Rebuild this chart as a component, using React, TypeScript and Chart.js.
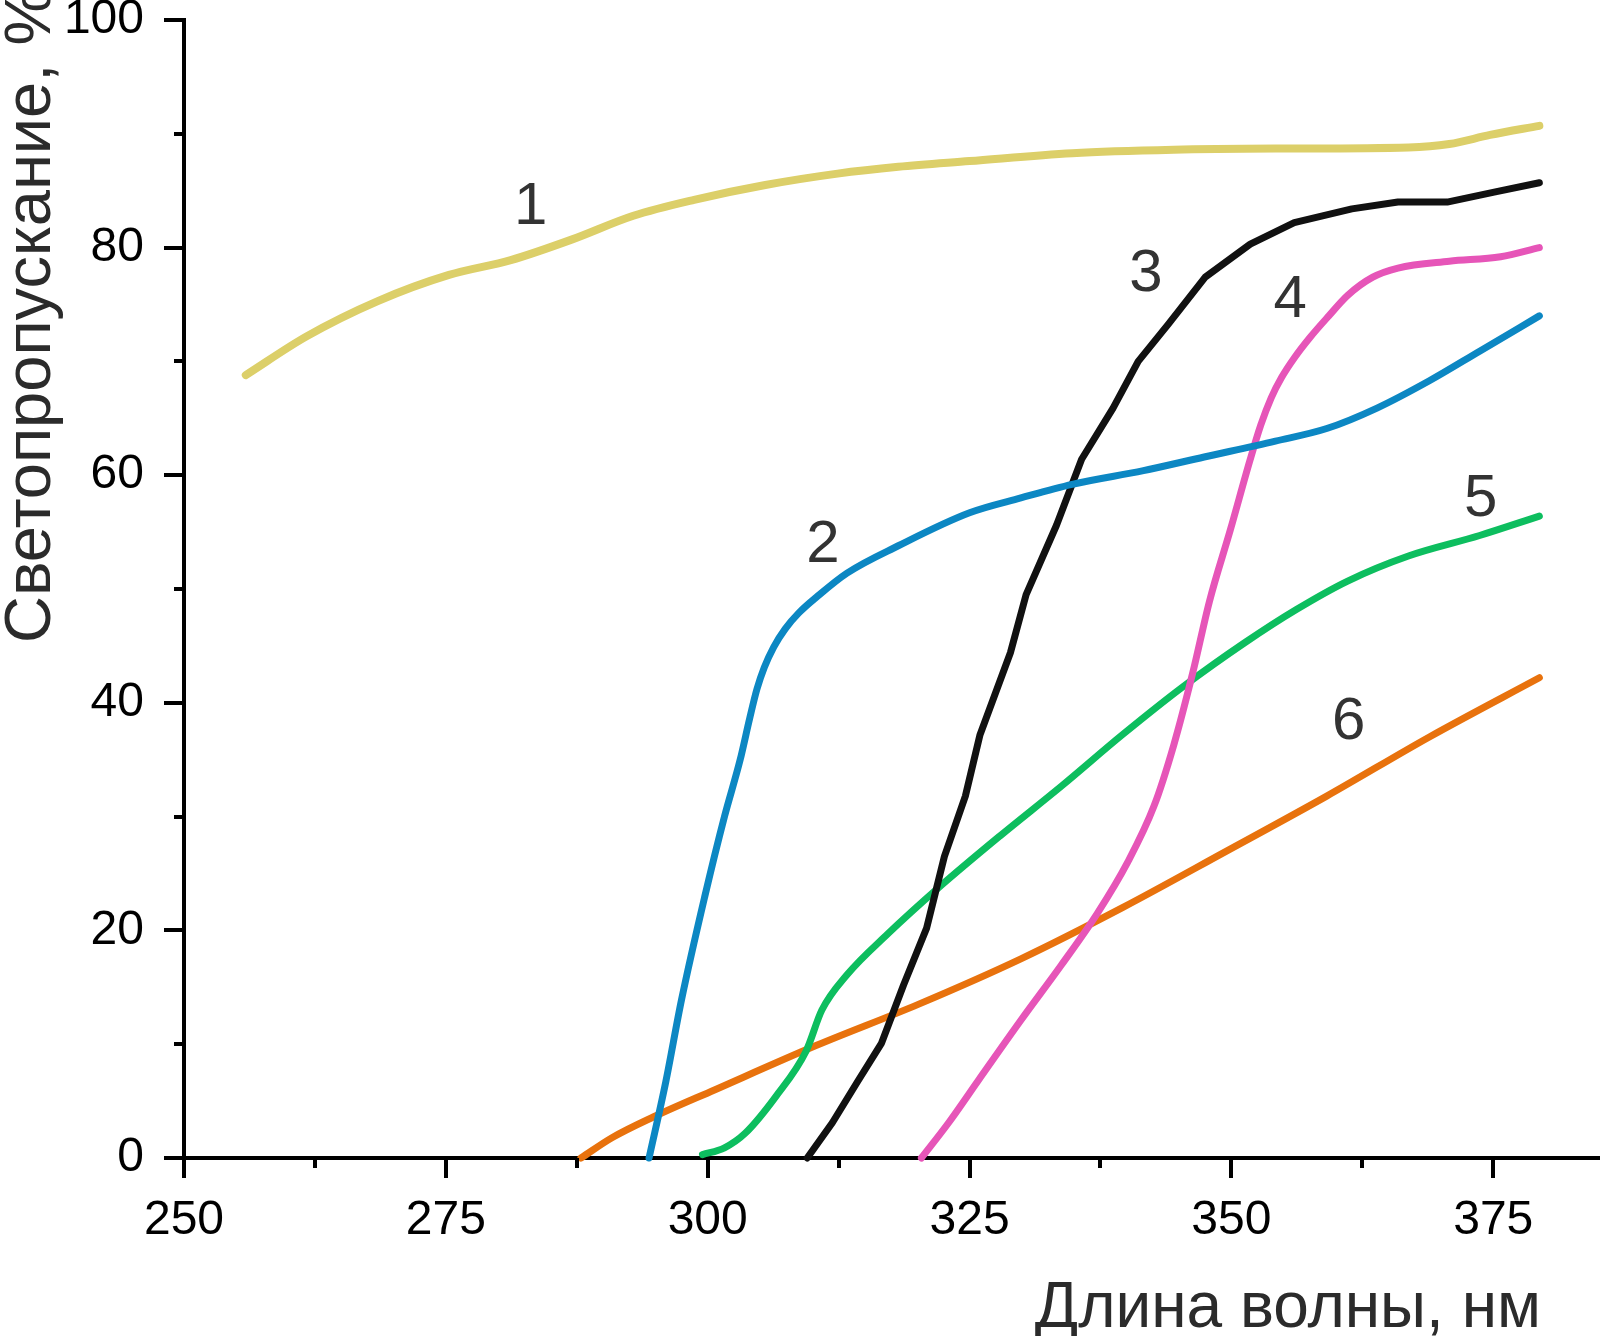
import React, { useEffect, useRef } from "react";
import { Chart, registerables } from "chart.js";

Chart.register(...registerables);

// ---- data (wavelength, nm / transmittance, %) ----
const curve1X = [255.9, 261.7, 268.5, 275.3, 281.2, 287.0, 292.9, 298.7, 305.5, 312.4, 318.2, 325.0, 334.8, 344.5, 354.2, 366.9, 370.8, 374.7, 379.4];
const curve1Y = [68.8, 72.2, 75.3, 77.6, 78.9, 80.7, 82.8, 84.2, 85.5, 86.5, 87.1, 87.6, 88.3, 88.6, 88.7, 88.8, 89.1, 89.9, 90.7];

const curve2X = [294.4, 296.0, 297.5, 299.7, 301.6, 303.1, 304.0, 304.7, 305.4, 306.3, 307.4, 308.7, 310.4, 313.3, 318.2, 325.0, 329.9, 334.8, 341.6, 347.4, 354.2, 359.1, 363.9, 368.9, 373.7, 379.4];
const curve2Y = [0, 6.7, 13.9, 22.9, 30.0, 35.0, 38.6, 41.2, 43.1, 44.9, 46.5, 47.9, 49.3, 51.4, 53.8, 56.7, 58.0, 59.2, 60.4, 61.6, 63.0, 64.1, 65.9, 68.3, 70.9, 74.0];

const curve3X = [309.5, 311.9, 314.3, 316.6, 318.7, 320.9, 322.6, 324.6, 326.0, 328.9, 330.4, 333.3, 335.7, 338.7, 341.1, 344.0, 347.5, 351.8, 356.0, 361.5, 365.9, 370.6, 375.2, 379.4];
const curve3Y = [0, 3.1, 6.7, 10.1, 15.2, 20.2, 26.5, 31.8, 37.2, 44.4, 49.5, 55.6, 61.4, 65.9, 70.0, 73.3, 77.4, 80.3, 82.2, 83.4, 84.0, 84.0, 84.9, 85.7];

const curve4X = [320.4, 323.0, 325.9, 329.9, 333.8, 337.2, 340.1, 342.6, 344.5, 346.3, 347.9, 349.9, 351.8, 352.8, 353.8, 354.8, 356.0, 357.5, 359.3, 361.1, 363.5, 365.9, 370.8, 375.7, 379.4];
const curve4Y = [0, 3.1, 6.9, 12.1, 17.0, 21.5, 26.0, 30.9, 36.3, 42.6, 48.9, 55.2, 61.4, 64.4, 66.8, 68.6, 70.3, 72.1, 74.0, 75.8, 77.4, 78.2, 78.8, 79.2, 80.0];

const curve5X = [299.5, 301.6, 303.6, 306.5, 309.4, 310.9, 313.3, 317.2, 322.1, 327.9, 333.8, 339.6, 345.5, 351.3, 356.2, 361.1, 366.9, 373.7, 379.4];
const curve5Y = [0.3, 0.9, 2.2, 5.4, 9.4, 13.0, 16.1, 19.7, 23.8, 28.3, 32.7, 37.2, 41.5, 45.3, 48.2, 50.7, 52.9, 54.7, 56.4];

const curve6X = [287.9, 290.9, 294.8, 300.7, 310.4, 320.1, 329.9, 339.6, 349.4, 359.1, 368.9, 379.4];
const curve6Y = [0, 1.8, 3.6, 6.0, 9.9, 13.5, 17.5, 22.0, 26.9, 31.8, 37.0, 42.2];

const curveNames = ["1", "2", "3", "4", "5", "6"];
const labelX = [283.1, 311.0, 341.85, 355.6, 373.8, 361.2];
const labelY = [83.8, 54.05, 77.9, 75.6, 58.1, 38.5];

const xMajorTicks = [250, 275, 300, 325, 350, 375];
const xMinorTicks = [262.5, 287.5, 312.5, 337.5, 362.5];
const yMajorTicks = [0, 20, 40, 60, 80, 100];
const yMinorTicks = [10, 30, 50, 70, 90];

const xTitle = "Длина волны, нм";
const yTitle = "Светопропускание, %";

const colors = ["#dccf69", "#0c87c3", "#111111", "#e655b8", "#0dbe5f", "#e8720d"];

const FONT = "'Liberation Sans', Arial, Helvetica, sans-serif";

function pts(xs: number[], ys: number[]) {
  return xs.map((x, i) => ({ x, y: ys[i] }));
}

const decorPlugin = {
  id: "decor",
  afterDraw(chart: any) {
    const ctx = chart.ctx;
    const xs = chart.scales.x;
    const ys = chart.scales.y;
    const area = chart.chartArea;
    ctx.save();
    // minor ticks
    ctx.strokeStyle = "#000";
    ctx.lineWidth = 4;
    ctx.beginPath();
    xMinorTicks.forEach((v) => {
      const px = Math.round(xs.getPixelForValue(v));
      ctx.moveTo(px, area.bottom);
      ctx.lineTo(px, area.bottom + 10);
    });
    yMinorTicks.forEach((v) => {
      const py = Math.round(ys.getPixelForValue(v));
      ctx.moveTo(area.left, py);
      ctx.lineTo(area.left - 10, py);
    });
    ctx.stroke();

    // curve number labels
    ctx.fillStyle = "#333";
    ctx.font = `60px ${FONT}`;
    ctx.textAlign = "center";
    ctx.textBaseline = "middle";
    curveNames.forEach((n, i) => {
      ctx.fillText(n, xs.getPixelForValue(labelX[i]), ys.getPixelForValue(labelY[i]) + 3);
    });

    // axis titles
    ctx.fillStyle = "#2b2b2b";
    ctx.font = `64px ${FONT}`;
    ctx.textAlign = "right";
    ctx.textBaseline = "alphabetic";
    ctx.fillText(xTitle, 1541, 1327);

    ctx.font = `65px ${FONT}`;
    ctx.translate(50, 643);
    ctx.rotate(-Math.PI / 2);
    ctx.textAlign = "left";
    ctx.fillText(yTitle, 0, 0);
    ctx.restore();
  },
};

export default function App() {
  const ref = useRef<HTMLCanvasElement | null>(null);

  useEffect(() => {
    document.body.style.margin = "0";
    const canvas = ref.current;
    if (!canvas) return;
    const series = [
      pts(curve1X, curve1Y),
      pts(curve2X, curve2Y),
      pts(curve3X, curve3Y),
      pts(curve4X, curve4Y),
      pts(curve5X, curve5Y),
      pts(curve6X, curve6Y),
    ];
    const chart = new Chart(canvas, {
      type: "line",
      data: {
        datasets: series.map((d, i) => ({
          label: curveNames[i],
          data: d,
          borderColor: colors[i],
          backgroundColor: colors[i],
          borderWidth: i === 0 ? 8 : 7,
          borderCapStyle: "round",
          borderJoinStyle: "round",
          pointRadius: 0,
          fill: false,
          tension: i === 2 ? 0 : 0.4,
          cubicInterpolationMode: i === 2 ? "default" : "monotone",
          clip: false,
        })),
      },
      options: {
        animation: false,
        responsive: false,
        devicePixelRatio: 1,
        layout: { padding: { top: 20, right: 2, left: 0, bottom: 0 } },
        plugins: { legend: { display: false }, tooltip: { enabled: false }, title: { display: false } },
        scales: {
          x: {
            type: "linear",
            min: 250,
            max: 385,
            afterBuildTicks: (s: any) => {
              s.ticks = xMajorTicks.map((v) => ({ value: v }));
            },
            afterFit: (s: any) => {
              s.height = 178;
              s.paddingLeft = 0;
              s.paddingRight = 0;
            },
            border: { display: true, color: "#000", width: 4 },
            grid: { drawOnChartArea: false, drawTicks: true, tickLength: 20, color: "#000", lineWidth: 4 },
            ticks: {
              color: "#000",
              padding: 14,
              maxRotation: 0,
              autoSkip: false,
              font: { family: FONT, size: 48 },
            },
          },
          y: {
            type: "linear",
            min: 0,
            max: 100,
            afterBuildTicks: (s: any) => {
              s.ticks = yMajorTicks.map((v) => ({ value: v }));
            },
            afterFit: (s: any) => {
              s.width = 184;
              s.paddingTop = 0;
              s.paddingBottom = 0;
            },
            border: { display: true, color: "#000", width: 4 },
            grid: { drawOnChartArea: false, drawTicks: true, tickLength: 20, color: "#000", lineWidth: 4 },
            ticks: {
              color: "#000",
              padding: 20,
              autoSkip: false,
              font: { family: FONT, size: 48 },
            },
          },
        },
      },
      plugins: [decorPlugin],
    } as any);
    return () => chart.destroy();
  }, []);

  return (
    <div style={{ width: 1600, height: 1336, background: "#fff" }}>
      <canvas ref={ref} width={1600} height={1336} style={{ display: "block", width: 1600, height: 1336 }} />
    </div>
  );
}
